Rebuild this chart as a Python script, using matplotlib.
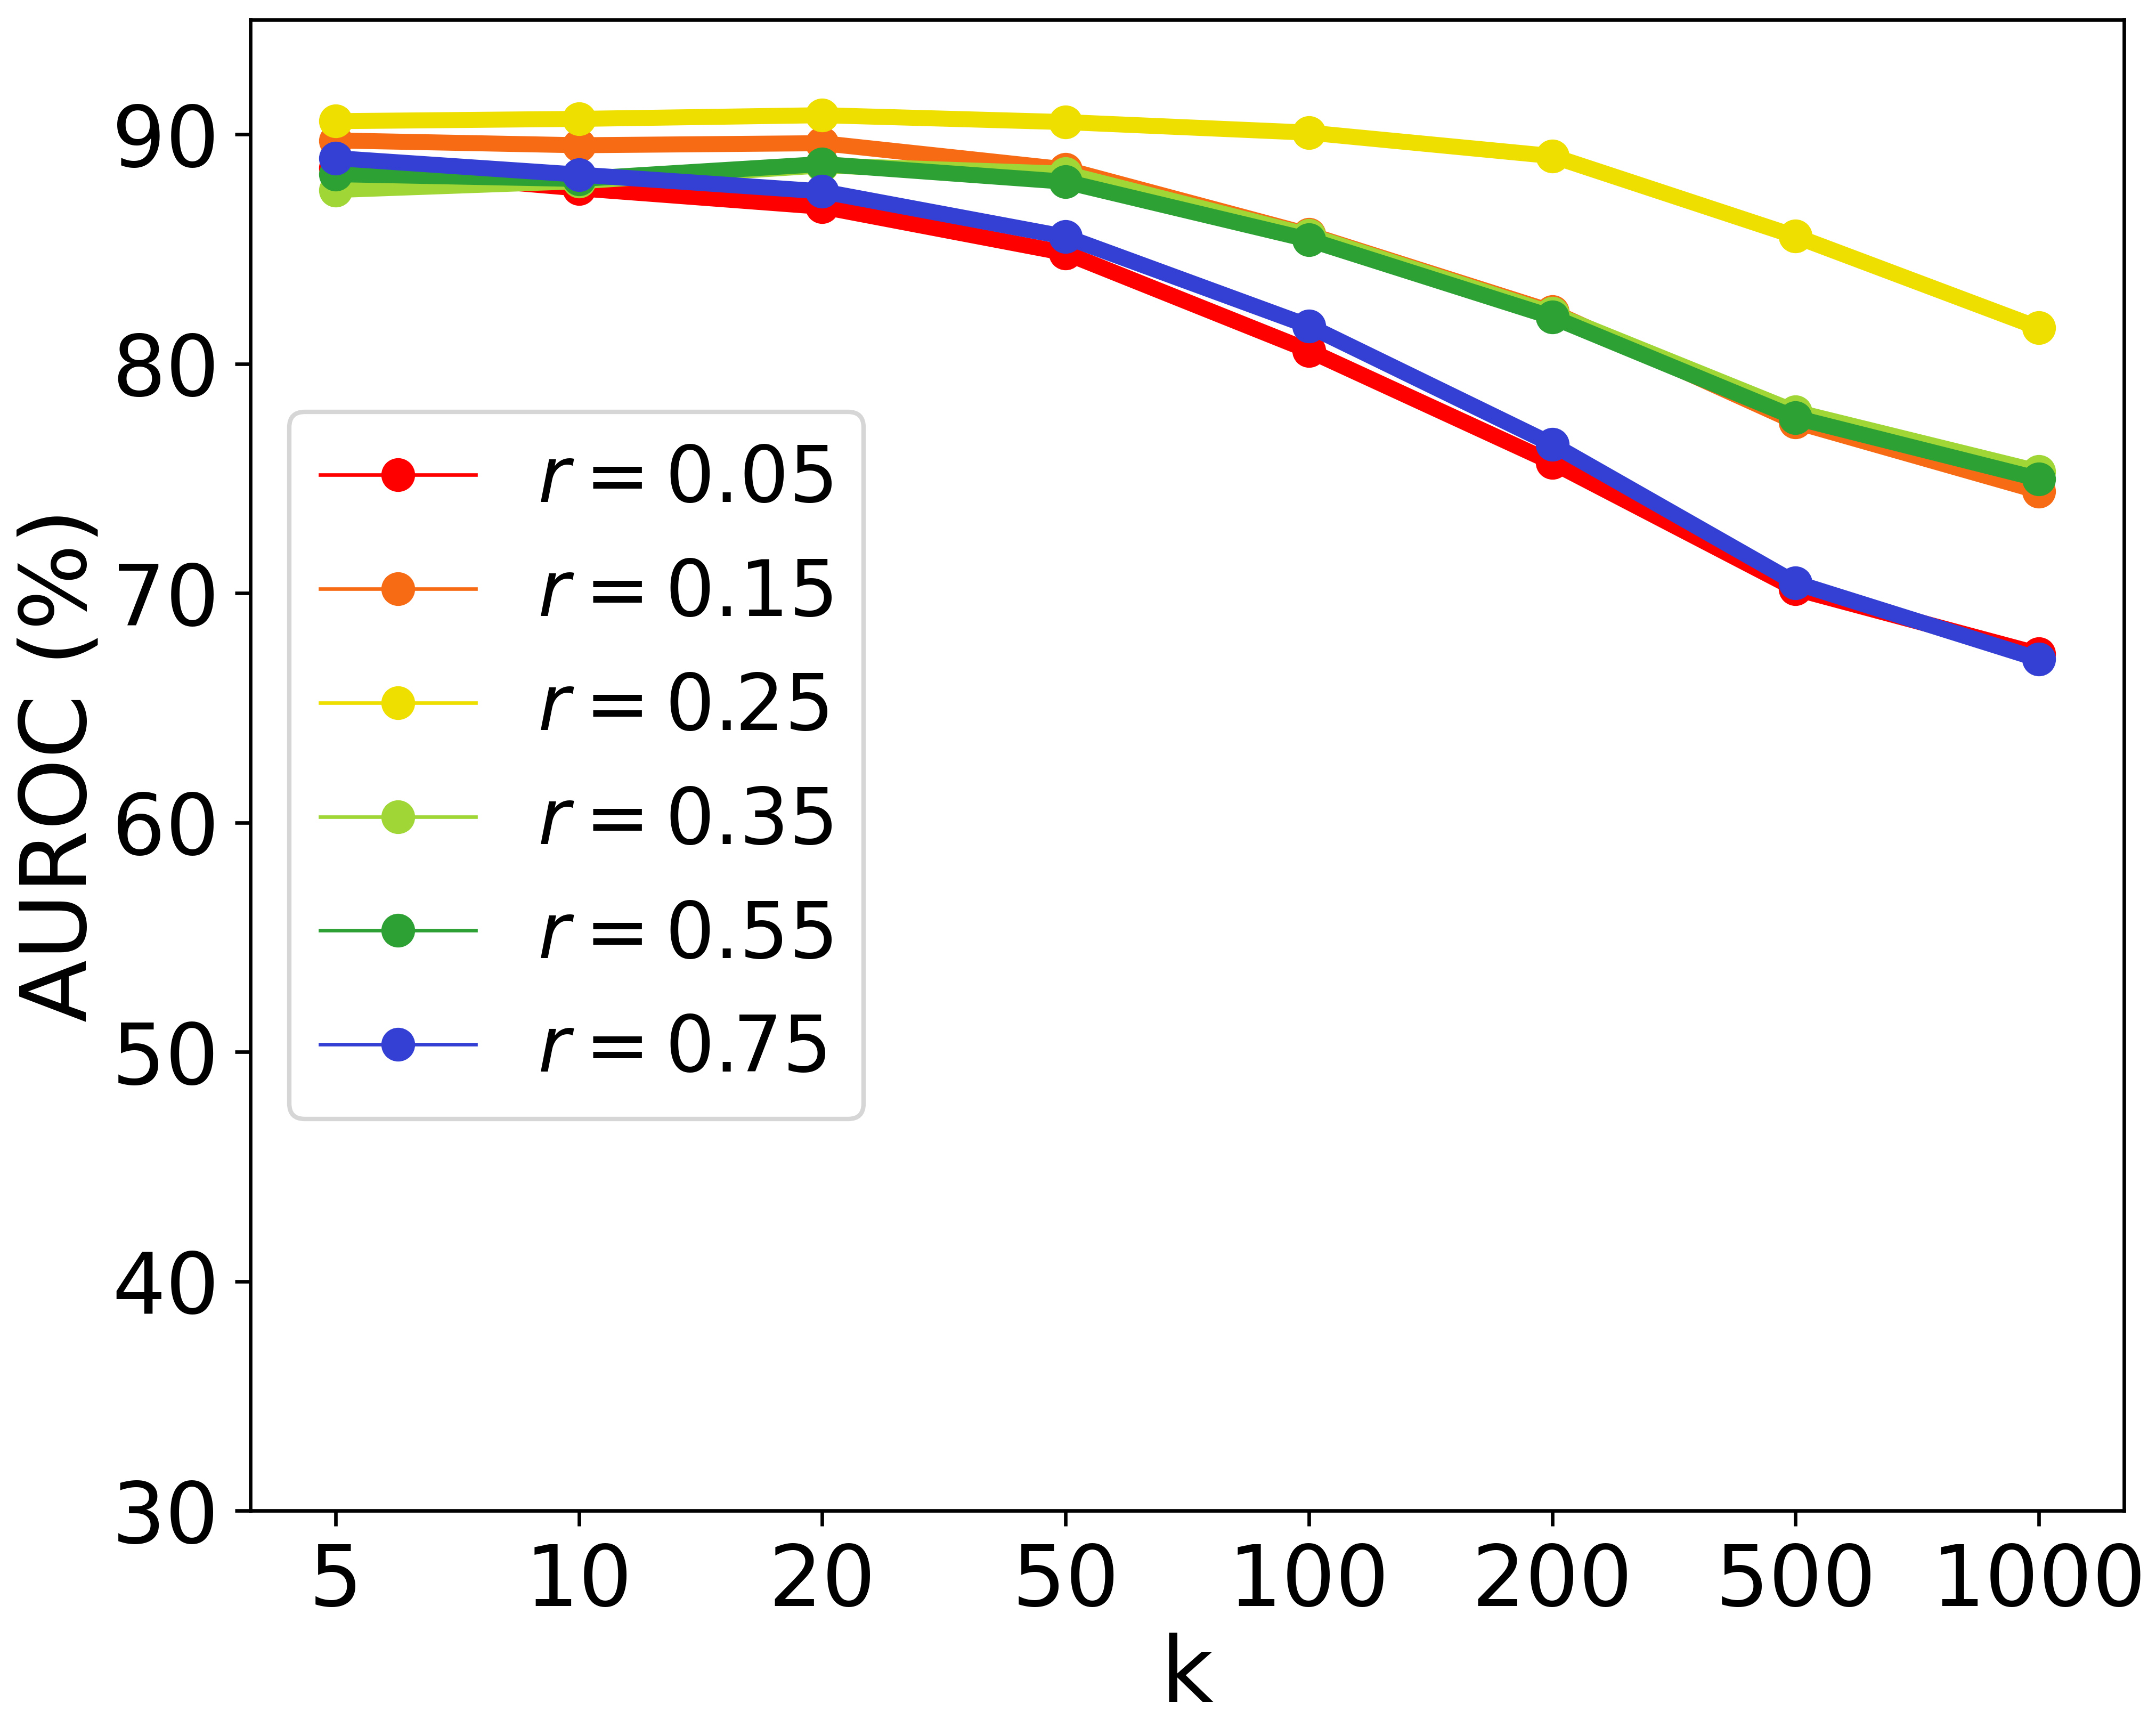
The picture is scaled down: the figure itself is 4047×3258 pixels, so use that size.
import matplotlib
matplotlib.use("Agg")
import matplotlib.pyplot as plt
from matplotlib.lines import Line2D

k_vals = ["5", "10", "20", "50", "100", "200", "500", "1000"]
r_labels = ["0.05", "0.15", "0.25", "0.35", "0.55", "0.75"]
auroc_r005 = [88.55, 87.65, 86.85, 84.83, 80.58, 75.70, 70.19, 67.35]
auroc_r015 = [89.74, 89.53, 89.62, 88.48, 85.64, 82.27, 77.47, 74.45]
auroc_r025 = [90.58, 90.68, 90.84, 90.54, 90.08, 89.06, 85.56, 81.57]
auroc_r035 = [87.58, 87.96, 88.65, 88.29, 85.60, 82.20, 77.91, 75.30]
auroc_r055 = [88.27, 88.06, 88.71, 87.94, 85.41, 82.04, 77.65, 74.98]
auroc_r075 = [88.97, 88.25, 87.52, 85.54, 81.65, 76.49, 70.45, 67.12]

series = [auroc_r005, auroc_r015, auroc_r025, auroc_r035, auroc_r055, auroc_r075]
colors = ["#ff0000", "#f76b15", "#eedf00", "#a0d636", "#2ea135", "#343fd4"]

fig = plt.figure(figsize=(4047 / 600, 3258 / 600), dpi=600)
ax = fig.add_axes([0.1161, 0.1298, 0.8691, 0.8588])

x = list(range(len(k_vals)))
for vals, c in zip(series, colors):
    ax.plot(x, vals, color=c, linewidth=3.6, marker="o", markersize=6.6)

ax.set_xlim(-0.35, len(k_vals) - 1 + 0.35)
ax.set_ylim(30, 95)
ax.set_xticks(x)
ax.set_xticklabels(k_vals)
ax.set_yticks([30, 40, 50, 60, 70, 80, 90])
ax.tick_params(axis="both", labelsize=19)
ax.set_xlabel("k", fontsize=20.5, labelpad=2)
ax.set_ylabel("AUROC (%)", fontsize=20.5, labelpad=1.5)

handles = [Line2D([], [], color=c, linewidth=0.8, marker="o", markersize=6.6) for c in colors]
labels = [f"$r = {r}$" for r in r_labels]
ax.legend(handles, labels, loc="center left", fontsize=17.5)

fig.savefig("out.png", dpi=600)
